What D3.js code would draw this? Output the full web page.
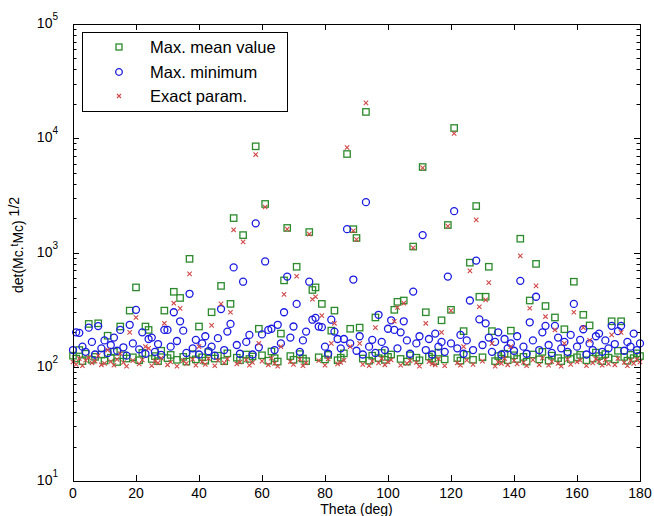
<!DOCTYPE html>
<html>
<head>
<meta charset="utf-8">
<script src="https://cdn.jsdelivr.net/npm/d3@7"></script>
<style>
body { margin: 0; background: #fff; }
text { font-family: "Liberation Sans", Arial, sans-serif; }
</style>
</head>
<body>
<div id="chart"></div>
<script>
var width = 654
var height = 516

// theta in degrees, one sample per degree
var theta = d3.range(0, 181)

// Max. mean value (green squares)
var max_mean = [
  125, 118, 140, 112, 130, 237, 115, 122, 240, 128,
  113, 187, 120, 135, 110, 225, 126, 118, 310, 121,
  495, 114, 132, 225, 210, 117, 124, 112, 138, 310,
  119, 127, 453, 115, 400, 122, 111, 880, 129, 116,
  225, 121, 113, 134, 300, 118, 125, 510, 112, 131,
  355, 2000, 120, 114, 1420, 128, 117, 123, 8500, 215,
  126, 2660, 113, 136, 119, 111, 195, 570, 1640, 124,
  115, 750, 129, 118, 112, 1510, 470, 495, 121, 355,
  116, 127, 207, 310, 114, 120, 131, 7280, 215, 1600,
  1340, 220, 118, 17000, 113, 125, 270, 119, 132, 115,
  122, 128, 315, 370, 117, 380, 111, 126, 1127, 120,
  114, 5600, 300, 123, 118, 112, 133, 255, 116, 1740,
  315, 12300, 119, 113, 205, 127, 815, 115, 2550, 410,
  121, 410, 750, 205, 112, 124, 118, 130, 114, 207,
  126, 117, 1320, 122, 111, 380, 128, 795, 116, 135,
  340, 113, 125, 270, 119, 112, 213, 130, 117, 555,
  121, 127, 285, 114, 230, 118, 133, 124, 112, 129,
  120, 250, 116, 138, 250, 122, 113, 127, 119, 131,
  124]

// Max. minimum (blue circles)
var max_min = [
  140, 200, 198, 150, 135, 220, 165, 128, 227, 145,
  170, 132, 155, 180, 138, 210, 148, 125, 233, 160,
  315, 142, 200, 130, 175, 180, 135, 158, 127, 210,
  210, 150, 300, 168, 250, 207, 132, 435, 145, 172,
  128, 160, 185, 137, 150, 125, 178, 320, 140, 203,
  237, 740, 155, 130, 555, 165, 190, 128, 1800, 148,
  192, 835, 210, 215, 140, 233, 160, 300, 615, 180,
  225, 355, 135, 170, 203, 555, 258, 268, 225, 222,
  150, 130, 258, 203, 175, 145, 175, 1600, 160, 580,
  138, 185, 128, 2760, 150, 172, 132, 285, 165, 140,
  215, 255, 210, 145, 200, 250, 170, 130, 455, 160,
  185, 1420, 140, 175, 128, 195, 150, 165, 135, 615,
  160, 2300, 145, 190, 130, 170, 380, 140, 850, 260,
  155, 240, 180, 135, 165, 200, 128, 175, 145, 160,
  138, 185, 565, 150, 130, 245, 170, 410, 140, 200,
  228, 155, 132, 228, 180, 145, 165, 135, 190, 355,
  150, 172, 213, 128, 160, 140, 185, 195, 135, 170,
  145, 228, 158, 205, 228, 138, 165, 150, 195, 140,
  160]

// Exact param. (red crosses)
var exact = [
  110, 105, 118, 102, 114, 120, 108, 112, 125, 104,
  107, 140, 111, 103, 116, 130, 109, 101, 200, 113,
  270, 106, 115, 150, 145, 102, 112, 108, 119, 240,
  104, 110, 360, 101, 324, 113, 107, 650, 116, 103,
  150, 111, 105, 118, 230, 102, 114, 355, 108, 117,
  300, 1580, 106, 110, 1240, 115, 103, 109, 7200, 160,
  112, 2500, 104, 119, 107, 101, 150, 430, 1600, 111,
  105, 620, 116, 102, 108, 1450, 390, 410, 113, 280,
  103, 117, 160, 240, 106, 109, 114, 8300, 150, 1550,
  1300, 160, 105, 20400, 102, 112, 220, 108, 118, 104,
  110, 115, 250, 330, 103, 360, 107, 113, 1100, 109,
  101, 5500, 240, 111, 106, 104, 117, 200, 102, 1700,
  310, 11000, 108, 103, 150, 114, 690, 105, 1930, 335,
  112, 385, 545, 160, 101, 110, 107, 118, 104, 150,
  113, 106, 935, 109, 102, 325, 115, 510, 104, 119,
  275, 103, 111, 210, 107, 101, 160, 116, 105, 300,
  110, 114, 220, 102, 170, 108, 117, 111, 103, 115,
  106, 190, 104, 118, 200, 109, 102, 113, 107, 116,
  110]

var x_ticks = [0, 20, 40, 60, 80, 100, 120, 140, 160, 180]
var y_major = [10, 100, 1000, 10000, 100000]
var legend_labels = ['Max. mean value', 'Max. minimum', 'Exact param.']

var col_green = '#2c8a2c'
var col_blue = '#1a1ae0'
var col_red = '#d04848'

var ax_left = 73, ax_right = 640, ax_top = 24, ax_bottom = 481

var x = d3.scaleLinear().domain([0, 180]).range([ax_left, ax_right])
var y = d3.scaleLog().domain([10, 100000]).range([ax_bottom, ax_top])

var svg = d3.select('#chart')
  .append('svg')
  .attr('width', width)
  .attr('height', height)

svg.append('rect')
  .attr('width', width)
  .attr('height', height)
  .attr('fill', '#fff')

// ticks (inward on all four sides)
var y_minor = y.ticks()

svg.selectAll('.yminor')
  .data(y_minor)
  .enter()
  .append('g')
  .each(function(d) {
    var len = y_major.indexOf(d) >= 0 ? 6 : 3.5
    var yy = Math.round(y(d)) + 0.5
    d3.select(this).append('line')
      .attr('x1', ax_left).attr('x2', ax_left + len)
      .attr('y1', yy).attr('y2', yy)
      .attr('stroke', '#000')
    d3.select(this).append('line')
      .attr('x1', ax_right).attr('x2', ax_right - len)
      .attr('y1', yy).attr('y2', yy)
      .attr('stroke', '#000')
  })

svg.selectAll('.xtick')
  .data(x_ticks)
  .enter()
  .append('g')
  .each(function(d) {
    var xx = Math.round(x(d)) + 0.5
    d3.select(this).append('line')
      .attr('x1', xx).attr('x2', xx)
      .attr('y1', ax_bottom).attr('y2', ax_bottom - 6)
      .attr('stroke', '#000')
    d3.select(this).append('line')
      .attr('x1', xx).attr('x2', xx)
      .attr('y1', ax_top).attr('y2', ax_top + 6)
      .attr('stroke', '#000')
  })

// x tick labels
svg.selectAll('.xlab')
  .data(x_ticks)
  .enter()
  .append('text')
  .attr('x', function(d) { return x(d) })
  .attr('y', ax_bottom + 17)
  .attr('text-anchor', 'middle')
  .style('font-size', '14px')
  .text(function(d) { return d })

// y tick labels 10^n
svg.selectAll('.ylab')
  .data(y_major)
  .enter()
  .append('text')
  .attr('x', ax_left - 15)
  .attr('y', function(d) { return y(d) + 4 })
  .attr('text-anchor', 'end')
  .style('font-size', '14px')
  .each(function(d) {
    d3.select(this).append('tspan').text('10')
    d3.select(this).append('tspan')
      .attr('dy', -8)
      .style('font-size', '10px')
      .text(Math.round(Math.log10(d)))
  })

// axis titles
svg.append('text')
  .attr('x', (ax_left + ax_right) / 2)
  .attr('y', 514)
  .attr('text-anchor', 'middle')
  .style('font-size', '14px')
  .text('Theta (deg)')

var ylab = svg.append('text')
  .attr('transform', 'translate(23,245) rotate(-90)')
  .attr('text-anchor', 'middle')
  .style('font-size', '14px')
ylab.append('tspan').text('det(Mc.')
ylab.append('tspan').attr('dy', -5).style('font-size', '10px').text('t')
ylab.append('tspan').attr('dy', 5).text('Mc)')
ylab.append('tspan').attr('dy', -4).text(' 1/2')

// markers
var g_data = theta.map(function(t, i) { return {t: t, v: max_mean[i]} })
var b_data = theta.map(function(t, i) { return {t: t, v: max_min[i]} })
var r_data = theta.map(function(t, i) { return {t: t, v: exact[i]} })

var plot = svg.append('g')

plot.selectAll('.sq')
  .data(g_data)
  .enter()
  .append('rect')
  .attr('x', function(d) { return x(d.t) - 3.2 })
  .attr('y', function(d) { return y(d.v) - 3.2 })
  .attr('width', 6.4)
  .attr('height', 6.4)
  .attr('fill', 'none')
  .attr('stroke', col_green)
  .attr('stroke-width', 1.3)

plot.selectAll('.ci')
  .data(b_data)
  .enter()
  .append('circle')
  .attr('cx', function(d) { return x(d.t) })
  .attr('cy', function(d) { return y(d.v) })
  .attr('r', 3.5)
  .attr('fill', 'none')
  .attr('stroke', col_blue)
  .attr('stroke-width', 1.3)

function cross(sel, s) {
  sel.append('path')
    .attr('d', 'M' + (-s) + ',' + (-s) + 'L' + s + ',' + s + 'M' + (-s) + ',' + s + 'L' + s + ',' + (-s))
    .attr('fill', 'none')
    .attr('stroke', col_red)
    .attr('stroke-width', 1.1)
}

plot.selectAll('.xx')
  .data(r_data)
  .enter()
  .append('g')
  .attr('transform', function(d) { return 'translate(' + x(d.t) + ',' + y(d.v) + ')' })
  .each(function() { cross(d3.select(this), 2.2) })

// axes box
svg.append('rect')
  .attr('x', ax_left + 0.5)
  .attr('y', ax_top + 0.5)
  .attr('width', ax_right - ax_left)
  .attr('height', ax_bottom - ax_top)
  .attr('fill', 'none')
  .attr('stroke', '#000')
  .attr('stroke-width', 1)

// legend
var legend = svg.append('g')
legend.append('rect')
  .attr('x', 82.5)
  .attr('y', 32.5)
  .attr('width', 205)
  .attr('height', 79)
  .attr('fill', '#fff')
  .attr('stroke', '#000')

var leg_y = [47, 72, 96]
legend_labels.forEach(function(lab, i) {
  var row = legend.append('g').attr('transform', 'translate(119,' + leg_y[i] + ')')
  if (i === 0) {
    row.append('rect').attr('x', -3).attr('y', -3).attr('width', 6).attr('height', 6)
      .attr('fill', 'none').attr('stroke', col_green).attr('stroke-width', 1.3)
  } else if (i === 1) {
    row.append('circle').attr('r', 3.3)
      .attr('fill', 'none').attr('stroke', col_blue).attr('stroke-width', 1.3)
  } else {
    cross(row, 2)
  }
  legend.append('text')
    .attr('x', 150)
    .attr('y', leg_y[i] + 6)
    .style('font-size', '16.5px')
    .text(lab)
})
</script>
</body>
</html>
